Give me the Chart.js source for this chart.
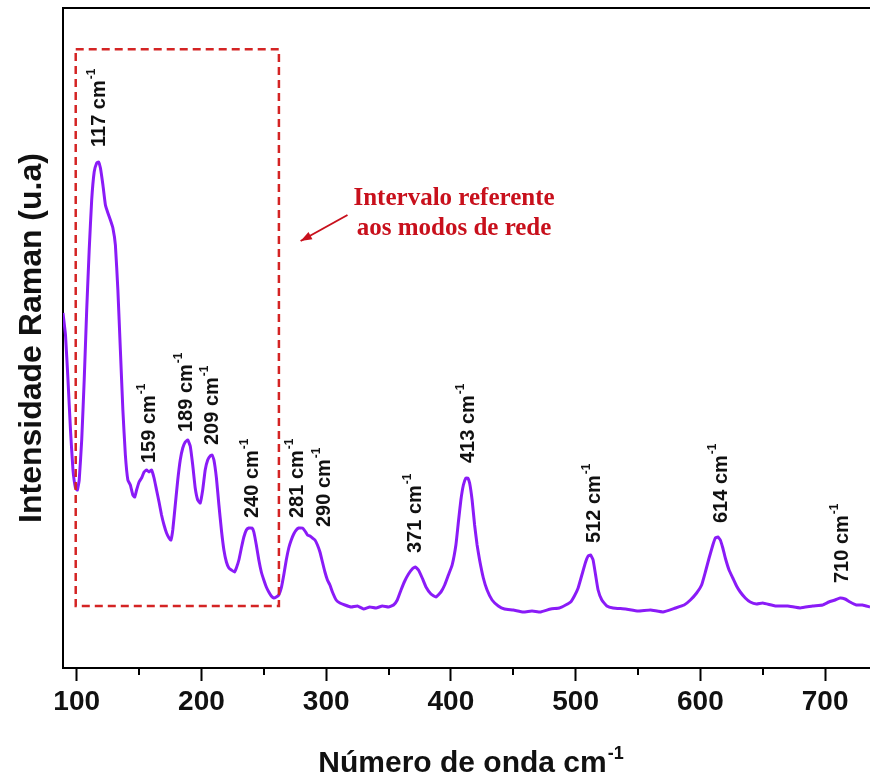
<!DOCTYPE html>
<html>
<head>
<meta charset="utf-8">
<script src="https://cdn.jsdelivr.net/npm/chart.js@4"></script>
<style>
  html, body { margin: 0; padding: 0; background: #fff; }
  #wrap { width: 870px; height: 776px; }
</style>
</head>
<body>
<div id="wrap"><canvas id="raman" width="870" height="776"></canvas></div>
<script>
// Raman spectrum (x: wavenumber cm-1, y: arbitrary units)
const wavenumbers = [
  89, 91, 93, 95, 97, 99, 100.5, 102, 104, 106, 108, 110, 112, 114, 116, 117.5, 119, 121, 123, 125,
  127, 129, 131, 133, 135, 137, 139, 141, 143, 145, 146.5, 148, 150, 152, 154, 156, 158, 160, 162, 164,
  166, 168, 170, 172, 174, 175.5, 177, 179, 181, 183, 185, 187, 189, 191, 193, 195, 197, 199, 201, 203,
  205, 207, 208.5, 210, 212, 214, 216, 218, 220, 222, 224, 226.5, 228, 230, 232, 234, 236, 238, 240.5, 242,
  244, 246, 248, 250, 252, 254, 256, 258, 260, 262, 264, 266, 268, 270, 272, 274, 276, 278, 281, 283,
  285, 287, 289, 291, 293, 295, 297, 299, 301, 303, 305, 308, 311, 315, 320, 325, 330, 335, 340, 345,
  350, 354, 357, 360, 363, 366, 369, 371.5, 374, 377, 380, 384, 388, 392, 395, 398, 401, 404, 406, 408,
  410, 412, 413.5, 415, 417, 419, 421, 423, 426, 429, 433, 438, 443, 450, 458, 465, 472, 480, 487, 492,
  496, 499, 502, 505, 508, 510, 512, 514, 516, 518, 521, 525, 530, 540, 550, 560, 570, 580, 587, 592,
  597, 601, 604, 607, 610, 612, 614, 616, 618, 620, 623, 626, 629, 632, 636, 640, 645, 650, 660, 670,
  680, 690, 698, 703, 708, 712, 716, 720, 725, 730, 736
];
const intensities = [
  355, 333, 288, 238, 198, 180, 178, 188, 228, 288, 358, 418, 468, 496, 505, 506, 500, 483, 463, 455,
  448, 440, 423, 378, 318, 258, 213, 188, 183, 173, 171, 178, 186, 190, 196, 198, 196, 198, 190, 178,
  166, 153, 143, 135, 130, 128, 138, 163, 188, 208, 220, 226, 228, 222, 203, 180, 168, 165, 178, 198,
  208, 212, 213, 208, 190, 163, 138, 118, 106, 100, 98, 96, 100, 108, 120, 131, 138, 140, 140, 136,
  123, 108, 96, 88, 81, 76, 72, 70, 71, 73, 80, 93, 108, 120, 128, 134, 138, 140, 140, 137,
  133, 132, 130, 128, 123, 116, 106, 96, 88, 83, 76, 68, 65, 63, 61, 62, 59, 61, 60, 62,
  61, 63, 68, 78, 87, 94, 99, 101, 98, 90, 81, 74, 71, 76, 83, 93, 103, 123, 146, 168,
  183, 190, 190, 185, 168, 143, 123, 108, 90, 78, 68, 62, 59, 58, 56, 57, 56, 59, 60, 63,
  66, 72, 80, 93, 106, 112, 113, 108, 93, 78, 68, 62, 60, 59, 57, 58, 56, 60, 63, 68,
  75, 83, 96, 110, 123, 130, 131, 128, 120, 110, 98, 90, 82, 76, 70, 66, 64, 65, 62, 62,
  60, 62, 63, 66, 68, 70, 69, 66, 63, 63, 61
];

const xTicks = [100, 200, 300, 400, 500, 600, 700];
const xMinorTicks = [150, 250, 350, 450, 550, 650];

// peak labels: text, wavenumber of label centre, intensity at label start
const peakNames = ['117', '159', '189', '209', '240', '281', '290', '371', '413', '512', '614', '710'];
const peakX = [118.4, 158.5, 187.9, 209.2, 241.3, 277.3, 298.7, 371.6, 414.3, 515, 616.6, 714];
const peakY = [521, 205, 236, 223, 150, 150, 141, 115, 205, 125, 145, 85];

const SANS = '"Liberation Sans", Arial, sans-serif';
const SERIF = '"Liberation Serif", "Times New Roman", serif';
const LINE_COLOR = '#8a1bf7';
const RED = '#c8101c';

const decorations = {
  id: 'decorations',
  afterDraw(chart) {
    const {ctx, chartArea, scales: {x, y}} = chart;
    ctx.save();

    // top frame line
    ctx.strokeStyle = '#000';
    ctx.lineWidth = 2;
    ctx.beginPath();
    ctx.moveTo(chartArea.left, chartArea.top);
    ctx.lineTo(chartArea.right, chartArea.top);
    ctx.stroke();

    // minor ticks
    xMinorTicks.forEach(v => {
      const px = Math.round(x.getPixelForValue(v));
      ctx.beginPath();
      ctx.moveTo(px, chartArea.bottom);
      ctx.lineTo(px, chartArea.bottom + 7);
      ctx.stroke();
    });

    // dashed box around lattice modes
    const bx1 = x.getPixelForValue(99.2), bx2 = x.getPixelForValue(262.1);
    const by1 = y.getPixelForValue(618.7), by2 = y.getPixelForValue(62);
    ctx.strokeStyle = '#d42424';
    ctx.lineWidth = 2.5;
    ctx.setLineDash([8, 5]);
    ctx.strokeRect(bx1, by1, bx2 - bx1, by2 - by1);
    ctx.setLineDash([]);

    // arrow
    const ax1 = x.getPixelForValue(317.1), ay1 = y.getPixelForValue(453);
    const ax2 = x.getPixelForValue(279.5), ay2 = y.getPixelForValue(427);
    ctx.strokeStyle = RED;
    ctx.fillStyle = RED;
    ctx.lineWidth = 2;
    ctx.beginPath();
    ctx.moveTo(ax1, ay1);
    ctx.lineTo(ax2, ay2);
    ctx.stroke();
    const ang = Math.atan2(ay2 - ay1, ax2 - ax1);
    ctx.beginPath();
    ctx.moveTo(ax2, ay2);
    ctx.lineTo(ax2 - 12 * Math.cos(ang - 0.35), ay2 - 12 * Math.sin(ang - 0.35));
    ctx.lineTo(ax2 - 12 * Math.cos(ang + 0.35), ay2 - 12 * Math.sin(ang + 0.35));
    ctx.closePath();
    ctx.fill();

    // annotation text
    const tx = x.getPixelForValue(402.5);
    ctx.font = 'bold 25px ' + SERIF;
    ctx.textAlign = 'center';
    ctx.textBaseline = 'alphabetic';
    ctx.fillText('Intervalo referente', tx, y.getPixelForValue(463));
    ctx.fillText('aos modos de rede', tx, y.getPixelForValue(433));

    // peak labels, rotated
    ctx.fillStyle = '#111';
    peakNames.forEach((name, i) => {
      const px = x.getPixelForValue(peakX[i]);
      const py = y.getPixelForValue(peakY[i]);
      ctx.save();
      ctx.translate(px, py);
      ctx.rotate(-Math.PI / 2);
      ctx.textAlign = 'left';
      ctx.textBaseline = 'middle';
      ctx.font = 'bold 20px ' + SANS;
      const main = name + ' cm';
      ctx.fillText(main, 0, 0);
      const w = ctx.measureText(main).width;
      ctx.font = 'bold 12px ' + SANS;
      ctx.fillText('-1', w + 1, -8);
      ctx.restore();
    });

    // x axis title with superscript
    ctx.fillStyle = '#111';
    ctx.textAlign = 'left';
    ctx.textBaseline = 'alphabetic';
    const mainTitle = 'Número de onda cm';
    ctx.font = 'bold 30px ' + SANS;
    const mw = ctx.measureText(mainTitle).width;
    ctx.font = 'bold 18px ' + SANS;
    const sw = ctx.measureText('-1').width;
    const startX = (chartArea.left + chartArea.right) / 2 + 4 - (mw + sw) / 2;
    ctx.font = 'bold 30px ' + SANS;
    ctx.fillText(mainTitle, startX, 772);
    ctx.font = 'bold 18px ' + SANS;
    ctx.fillText('-1', startX + mw + 1, 759);

    ctx.restore();
  }
};

const config = {
  type: 'line',
  data: {
    datasets: [{
      label: 'Raman',
      data: wavenumbers.map((w, i) => ({x: w, y: intensities[i]})),
      borderColor: LINE_COLOR,
      borderWidth: 3,
      pointRadius: 0,
      tension: 0.12,
      fill: false
    }]
  },
  options: {
    responsive: false,
    animation: false,
    layout: { padding: { top: 8, left: 0, right: 0, bottom: 0 } },
    plugins: {
      legend: { display: false },
      tooltip: { enabled: false }
    },
    scales: {
      x: {
        type: 'linear',
        min: 89,
        max: 736,
        afterBuildTicks: axis => { axis.ticks = xTicks.map(v => ({value: v})); },
        afterFit: scale => { scale.height = 108; },
        ticks: {
          color: '#111',
          font: { family: SANS, size: 28, weight: 'bold' },
          padding: 4,
          maxRotation: 0,
          autoSkip: false
        },
        grid: {
          drawOnChartArea: false,
          drawTicks: true,
          tickLength: 13,
          tickWidth: 2,
          tickColor: '#000'
        },
        border: { display: true, width: 2, color: '#000' }
      },
      y: {
        min: 0,
        max: 660,
        afterFit: scale => { scale.width = 63; },
        ticks: { display: false },
        grid: { display: false, drawTicks: false },
        border: { display: true, width: 2, color: '#000' },
        title: {
          display: true,
          text: 'Intensidade Raman (u.a)',
          color: '#111',
          font: { family: SANS, size: 32, weight: 'bold' },
          padding: { top: 13, bottom: 0 }
        }
      }
    }
  },
  plugins: [decorations]
};

const chart = new Chart(document.getElementById('raman'), config);
</script>
</body>
</html>
